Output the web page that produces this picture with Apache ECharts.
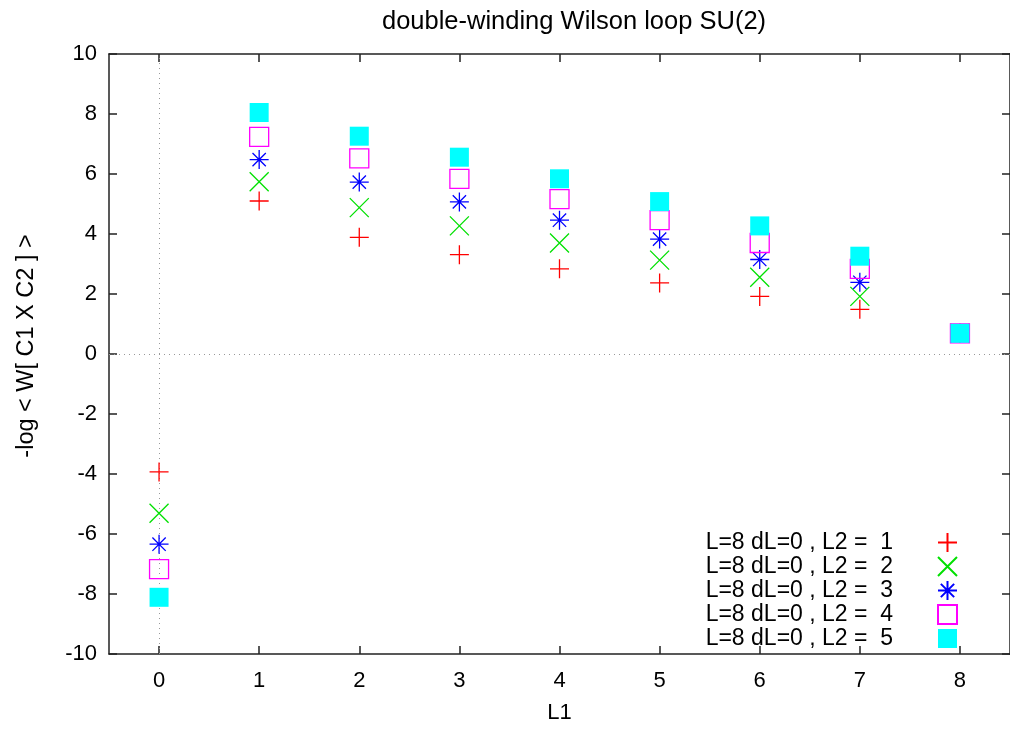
<!DOCTYPE html>
<html>
<head>
<meta charset="utf-8">
<script src="https://cdn.jsdelivr.net/npm/echarts@6/dist/echarts.min.js"></script>
<style>
html, body { margin: 0; padding: 0; background: #fff; }
#chart { width: 1010px; height: 729px; }
</style>
</head>
<body>
<div id="chart"></div>
<script>
var L1 = [0, 1, 2, 3, 4, 5, 6, 7, 8];
var xTicks = [0, 1, 2, 3, 4, 5, 6, 7, 8];
var seriesNames = [
	'L=8 dL=0 , L2 =  1',
	'L=8 dL=0 , L2 =  2',
	'L=8 dL=0 , L2 =  3',
	'L=8 dL=0 , L2 =  4',
	'L=8 dL=0 , L2 =  5'
];
var l2_1 = [-3.93, 5.10, 3.89, 3.31, 2.84, 2.37, 1.92, 1.49, 0.69];
var l2_2 = [-5.31, 5.74, 4.88, 4.27, 3.70, 3.13, 2.56, 1.92, 0.69];
var l2_3 = [-6.34, 6.48, 5.73, 5.07, 4.46, 3.83, 3.15, 2.39, 0.69];
var l2_4 = [-7.17, 7.24, 6.52, 5.84, 5.16, 4.46, 3.70, 2.84, 0.69];
var l2_5 = [-8.11, 8.05, 7.26, 6.56, 5.84, 5.08, 4.27, 3.26, 0.69];

var font = 'Liberation Sans, Arial, sans-serif';

function pairs(ys) {
	var out = [];
	for (var i = 0; i < L1.length; i++) {
		out.push([L1[i], ys[i]]);
	}
	return out;
}

// gnuplot point types
var plusPath = 'path://M0,10L20,10M10,0L10,20';
var crossPath = 'path://M0,0L20,20M20,0L0,20';
var starPath = 'path://M0,10L20,10M10,0L10,20M3,3L17,17M17,3L3,17';

function pointSeries(name, ys, symbol, color, filled, idx) {
	return {
		name: name,
		type: 'scatter',
		data: pairs(ys),
		symbol: symbol,
		symbolSize: 19,
		z: 2 + idx,
		itemStyle: {
			color: filled ? color : 'transparent',
			borderColor: color,
			borderWidth: filled ? 0 : 1.3,
			opacity: 1
		},
		emphasis: { disabled: true }
	};
}

var chart = echarts.init(document.getElementById('chart'));

var series = [
	pointSeries(seriesNames[0], l2_1, plusPath, '#ff0000', false, 0),
	pointSeries(seriesNames[1], l2_2, crossPath, '#00e000', false, 1),
	pointSeries(seriesNames[2], l2_3, starPath, '#0000ff', false, 2),
	pointSeries(seriesNames[3], l2_4, 'rect', '#ff00ff', false, 3),
	pointSeries(seriesNames[4], l2_5, 'rect', '#00ffff', true, 4)
];

// dotted zero axes
series[0].markLine = {
	silent: true,
	symbol: 'none',
	label: { show: false },
	lineStyle: { color: '#999', type: [1, 4], width: 1 },
	data: [{ xAxis: 0 }, { yAxis: 0 }],
	z: 1
};

var axisLine = { show: true, onZero: false, lineStyle: { color: '#222', width: 1.5 } };
var tickIn = { show: true, inside: true, length: 8, lineStyle: { color: '#222', width: 1.5 } };

chart.setOption({
	animation: false,
	backgroundColor: '#fff',
	title: {
		text: 'double-winding Wilson loop SU(2)',
		left: 569,
		textAlign: 'center',
		top: 4,
		textStyle: { fontFamily: font, fontSize: 25.5, fontWeight: 'normal', color: '#000' }
	},
	grid: { left: 109, top: 54, width: 906, height: 603 },
	legend: {
		orient: 'vertical',
		align: 'right',
		right: 52,
		top: 531,
		padding: 0,
		itemWidth: 19,
		itemHeight: 19,
		itemGap: 1,
		selectedMode: false,
		textStyle: { fontFamily: font, fontSize: 23, color: '#000', padding: [0, 40, 0, 0] },
		data: seriesNames
	},
	xAxis: [{
		type: 'value',
		position: 'bottom',
		min: -0.5,
		max: 8.5,
		name: 'L1',
		nameLocation: 'middle',
		nameGap: 48,
		nameTextStyle: { fontFamily: font, fontSize: 22, color: '#000' },
		axisLine: axisLine,
		axisTick: Object.assign({ customValues: xTicks }, tickIn),
		axisLabel: { customValues: xTicks, fontFamily: font, fontSize: 22, color: '#000', margin: 16 },
		splitLine: { show: false }
	}, {
		type: 'value',
		position: 'top',
		min: -0.5,
		max: 8.5,
		axisLine: axisLine,
		axisTick: Object.assign({ customValues: xTicks }, tickIn),
		axisLabel: { show: false },
		splitLine: { show: false }
	}],
	yAxis: [{
		type: 'value',
		position: 'left',
		min: -10,
		max: 10,
		interval: 2,
		name: '-log < W[ C1 X C2 ] >',
		nameLocation: 'middle',
		nameRotate: 90,
		nameGap: 70,
		nameTextStyle: { fontFamily: font, fontSize: 23.5, color: '#000', padding: [0, 0, 0, 16] },
		axisLine: axisLine,
		axisTick: tickIn,
		axisLabel: { fontFamily: font, fontSize: 22, color: '#000', margin: 12 },
		splitLine: { show: false }
	}, {
		type: 'value',
		position: 'right',
		min: -10,
		max: 10,
		interval: 2,
		axisLine: axisLine,
		axisTick: tickIn,
		axisLabel: { show: false },
		splitLine: { show: false }
	}],
	series: series
});
</script>
</body>
</html>
